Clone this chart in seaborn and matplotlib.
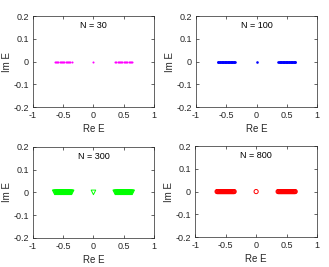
import matplotlib
matplotlib.use("Agg")
import matplotlib.pyplot as plt
import seaborn as sns

sns.set_style("white")
plt.rcParams['font.family'] = ['Liberation Sans', 'DejaVu Sans']

re_30 = [-0.64, -0.62, -0.60, -0.58, -0.56, -0.54, -0.52, -0.50, -0.48, -0.46,
         -0.44, -0.42, -0.40, -0.38, -0.36,
         0.0,
         0.36, 0.38, 0.40, 0.42, 0.44, 0.46, 0.48, 0.50, 0.52, 0.54,
         0.56, 0.58, 0.60, 0.62, 0.64]
band_dense = [-0.64, -0.63, -0.62, -0.61, -0.60, -0.59, -0.58, -0.57, -0.56, -0.55,
              -0.54, -0.53, -0.52, -0.51, -0.50, -0.49, -0.48, -0.47, -0.46, -0.45,
              -0.44, -0.43, -0.42, -0.41, -0.40, -0.39, -0.38, -0.37, -0.36,
              0.0,
              0.36, 0.37, 0.38, 0.39, 0.40, 0.41, 0.42, 0.43, 0.44, 0.45,
              0.46, 0.47, 0.48, 0.49, 0.50, 0.51, 0.52, 0.53, 0.54, 0.55,
              0.56, 0.57, 0.58, 0.59, 0.60, 0.61, 0.62, 0.63, 0.64]
re_100 = band_dense
re_300 = band_dense
re_800 = band_dense

titles = ["N = 30", "N = 100", "N = 300", "N = 800"]
series = [re_30, re_100, re_300, re_800]
colors = ["#ff00ff", "#0000ff", "#00ff00", "#ff0000"]
markers = ["o", "o", "v", "o"]
sizes = [2.2, 3.5, 11, 9]
filled = [True, True, False, False]

xticks = [-1, -0.5, 0, 0.5, 1]
xticklabels = ["-1", "-0.5", "0", "0.5", "1"]
yticks = [-0.2, -0.1, 0, 0.1, 0.2]
yticklabels = ["-0.2", "-0.1", "0", "0.1", "0.2"]

fig = plt.figure(figsize=(3.29, 2.67), dpi=100)
positions = [[0.100, 0.599, 0.368, 0.341],
             [0.596, 0.599, 0.368, 0.341],
             [0.100, 0.109, 0.368, 0.341],
             [0.593, 0.112, 0.371, 0.341]]

edge_gray = "#262626"
for pos, title, re, c, m, s, f in zip(positions, titles, series, colors, markers, sizes, filled):
    ax = fig.add_axes(pos)
    im = [0.0] * len(re)
    if f:
        sns.scatterplot(x=re, y=im, ax=ax, color=c, marker=m, s=s, linewidth=0)
    else:
        sns.scatterplot(x=re, y=im, ax=ax, marker=m, s=s, facecolors="none",
                        edgecolors=c, linewidth=0.7)
    ax.set_xlim(-1, 1)
    ax.set_ylim(-0.2, 0.2)
    ax.set_xticks(xticks)
    ax.set_xticklabels(xticklabels)
    ax.set_yticks(yticks)
    ax.set_yticklabels(yticklabels)
    ax.tick_params(direction="in", length=2, width=0.5, labelsize=6.5,
                   colors=edge_gray, pad=3, top=True, right=True,
                   bottom=True, left=True)
    for sp in ax.spines.values():
        sp.set_visible(True)
        sp.set_linewidth(0.5)
        sp.set_color(edge_gray)
    ax.set_xlabel("Re E", fontsize=7, color=edge_gray, labelpad=2.5)
    ax.set_ylabel("Im E", fontsize=7, color=edge_gray, labelpad=1)
    ax.text(0, 0.157, title, ha="center", va="center", fontsize=6.5, color="black")

fig.savefig("out.png", dpi=100)
